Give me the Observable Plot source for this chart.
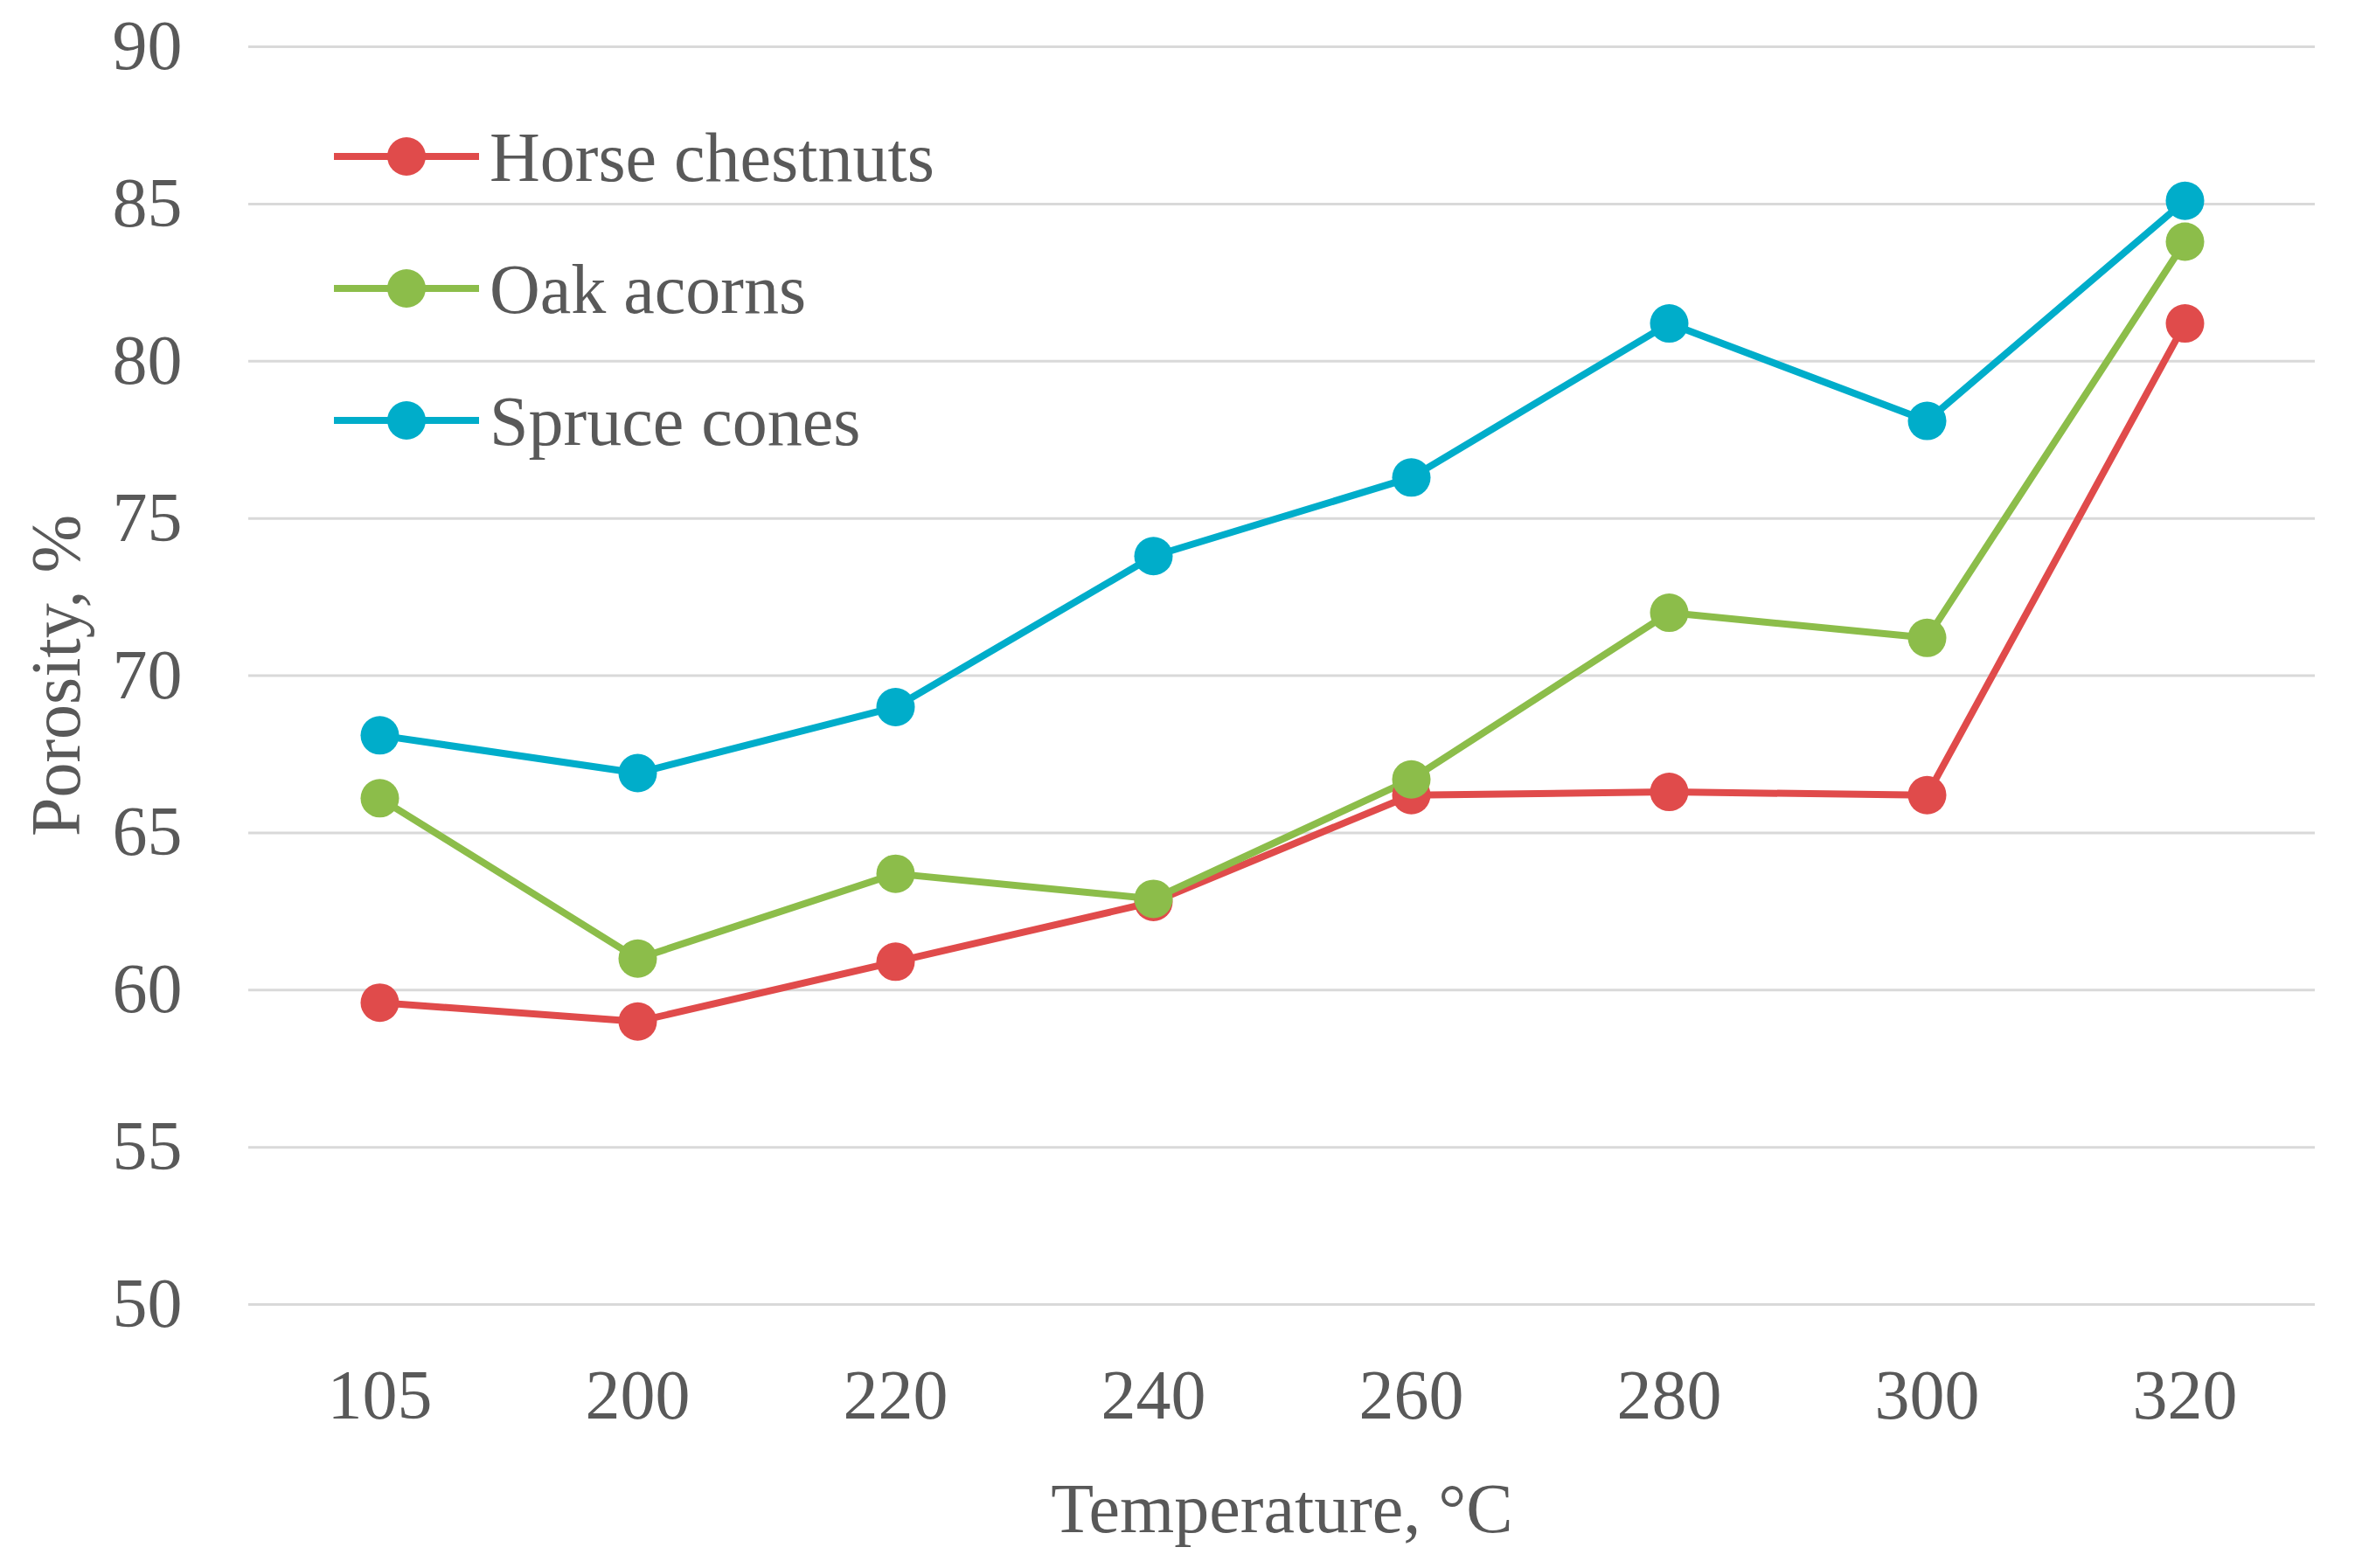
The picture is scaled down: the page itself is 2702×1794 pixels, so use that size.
<!DOCTYPE html>
<html>
<head>
<meta charset="utf-8">
<script src="https://cdn.jsdelivr.net/npm/d3@7"></script>
<script src="https://cdn.jsdelivr.net/npm/@observablehq/plot@0.6"></script>
<style>
  html, body { margin: 0; padding: 0; background: #ffffff; }
  #chart svg { display: block; }
</style>
</head>
<body>
<div id="chart"></div>
<script>
const temperatures = ["105", "200", "220", "240", "260", "280", "300", "320"];
const seriesNames = ["Horse chestnuts", "Oak acorns", "Spruce cones"];
const horseChestnuts = [59.6, 59.0, 60.9, 62.8, 66.2, 66.3, 66.2, 81.2];
const oakAcorns = [66.1, 61.0, 63.7, 62.9, 66.7, 72.0, 71.2, 83.8];
const spruceCones = [68.1, 66.9, 69.0, 73.8, 76.3, 81.2, 78.1, 85.1];
const yTicks = [50, 55, 60, 65, 70, 75, 80, 85, 90];
const seriesColors = ["#E04B4B", "#8CBD4A", "#00ADCA"];

const seriesValues = [horseChestnuts, oakAcorns, spruceCones];
const data = seriesNames.flatMap((name, s) =>
  temperatures.map((t, i) => ({series: name, temperature: t, porosity: seriesValues[s][i]}))
);

const textColor = "#595959";

function legendMark(index, scales, values, dimensions) {
  const g = d3.create("svg:g");
  const x0 = dimensions.marginLeft;
  const y0 = dimensions.marginTop;
  seriesNames.forEach((name, i) => {
    const cy = y0 + 126 + i * 151;
    const color = scales.color(name);
    g.append("line")
      .attr("x1", x0 + 98).attr("x2", x0 + 264)
      .attr("y1", cy).attr("y2", cy)
      .attr("stroke", color).attr("stroke-width", 8);
    g.append("circle")
      .attr("cx", x0 + 181).attr("cy", cy).attr("r", 22)
      .attr("fill", color);
    g.append("text")
      .attr("x", x0 + 276).attr("y", cy)
      .attr("dy", "0.35em")
      .attr("text-anchor", "start")
      .attr("fill", textColor)
      .attr("font-size", 80)
      .text(name);
  });
  return g.node();
}

const chart = Plot.plot({
  width: 2702,
  height: 1794,
  marginLeft: 284,
  marginRight: 54,
  marginTop: 53,
  marginBottom: 302,
  style: {
    fontFamily: "'Liberation Serif', 'DejaVu Serif', serif",
    fontSize: "80px",
    color: textColor,
    background: "#ffffff"
  },
  x: {
    type: "point",
    domain: temperatures,
    padding: 0.5,
    tickSize: 0,
    tickPadding: 74,
    label: "Temperature, °C",
    labelAnchor: "center",
    labelArrow: false,
    labelOffset: 260
  },
  y: {
    domain: [50, 90],
    ticks: yTicks,
    tickSize: 0,
    tickPadding: 76,
    label: "Porosity, %",
    labelAnchor: "center",
    labelArrow: false,
    labelOffset: 250
  },
  color: {domain: seriesNames, range: seriesColors},
  marks: [
    Plot.ruleY(yTicks, {stroke: "#D9D9D9", strokeWidth: 3}),
    Plot.line(data, {x: "temperature", y: "porosity", z: "series", stroke: "series", strokeWidth: 8}),
    Plot.dot(data, {x: "temperature", y: "porosity", fill: "series", r: 22}),
    legendMark
  ]
});

document.getElementById("chart").appendChild(chart);
</script>
</body>
</html>
